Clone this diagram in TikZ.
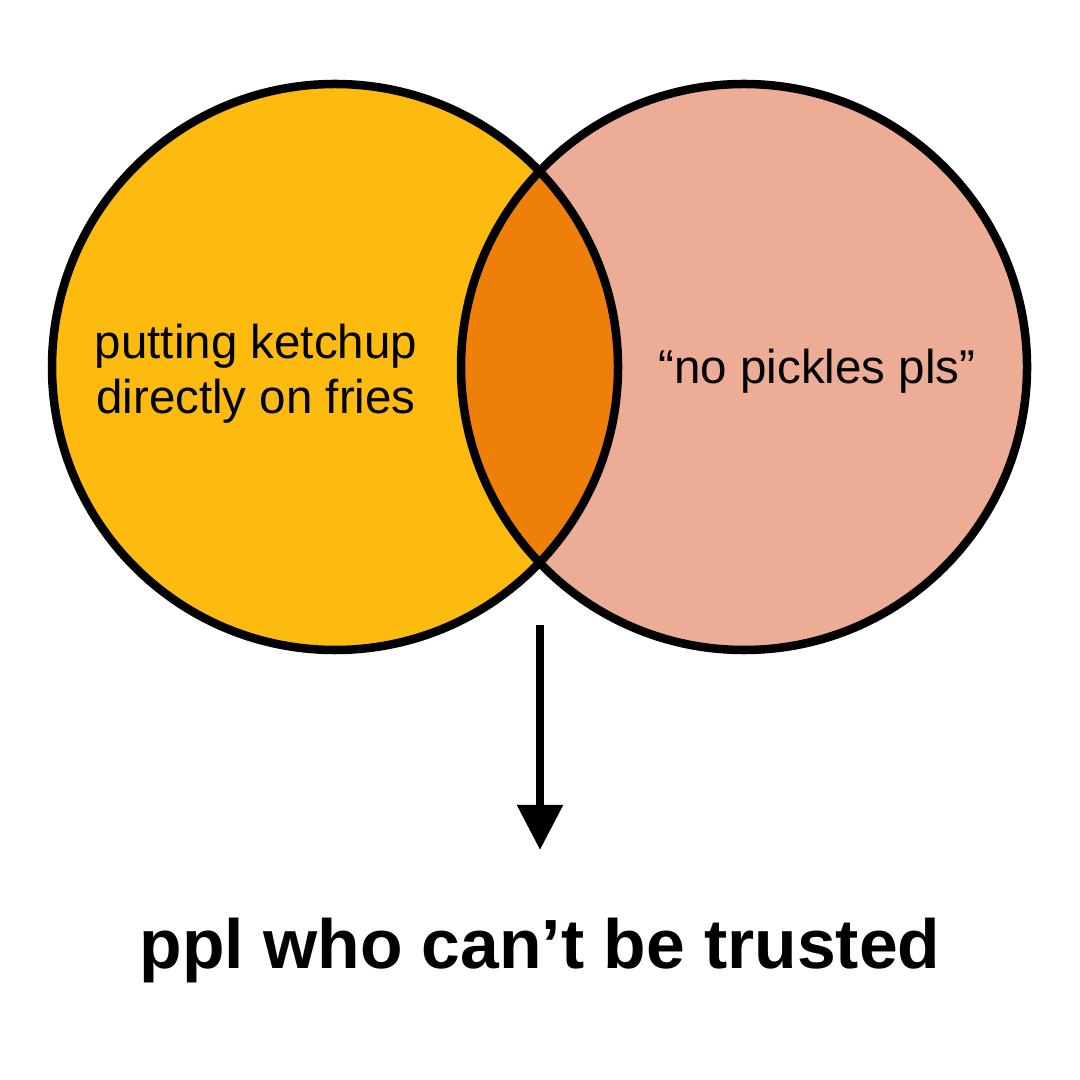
\documentclass[tikz,border=0pt]{standalone}
\usepackage{fontspec}
\setmainfont{Liberation Sans}
\usetikzlibrary{arrows.meta,positioning}
\definecolor{ketchupyellow}{HTML}{FDBB10}
\definecolor{picklepink}{HTML}{ECAC96}
\definecolor{overlaporange}{HTML}{EE800A}

\begin{document}
\begin{tikzpicture}[x=0.01cm,y=-0.01cm,
		outline/.style={draw=black, line width=0.085cm},
		setlabel/.style={font=\fontsize{13.5}{15.6}\selectfont, align=center, inner sep=0pt},
		every edge/.style={draw, line width=0.085cm, -{Triangle[length=0.45cm, width=0.44cm]}}]
		\useasboundingbox (0,0) rectangle (1080,1080);
		% Sets
		\coordinate (lc) at (335,367);
		\coordinate (rc) at (744,367);
		\fill[ketchupyellow] (lc) circle (283);
		\fill[picklepink] (rc) circle (283);
		\begin{scope}
			\clip (lc) circle (283);
			\fill[overlaporange] (rc) circle (283);
		\end{scope}
		\draw[outline] (lc) circle (283);
		\draw[outline] (rc) circle (283);
		% Labels
		\node (ketchup) [setlabel] at (256,374) {putting ketchup\\directly on fries};
		\node (pickles) [setlabel] at (817,371) {“no pickles pls”};
		% Result
		\coordinate (start) at (540,625);
		\coordinate (tip) at (540,850);
		\node (trust) at (540,950) {\fontsize{19.8}{24}\selectfont\bfseries ppl who can’t be trusted};
		\draw (start) edge (tip);
	\end{tikzpicture}
\end{document}
